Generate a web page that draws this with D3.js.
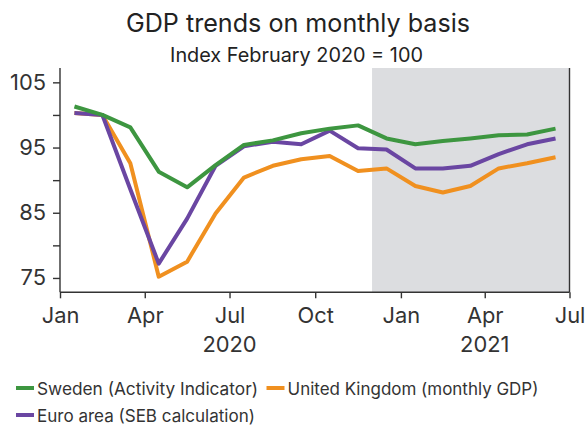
<!DOCTYPE html>
<html>
<head>
<meta charset="utf-8">
<script src="https://cdn.jsdelivr.net/npm/d3@7"></script>
<style>
  html, body { margin: 0; padding: 0; background: #fff; }
  svg { display: block; font-family: "Inter", "Open Sans", sans-serif; }
</style>
</head>
<body>
<svg id="chart" width="585" height="425"></svg>
<script>
// ---- Data ----
const months = ["2020-01","2020-02","2020-03","2020-04","2020-05","2020-06","2020-07","2020-08","2020-09","2020-10","2020-11","2020-12",
                "2021-01","2021-02","2021-03","2021-04","2021-05","2021-06"];
const sweden = [101.3,100.0,98.1,91.3,88.9,92.3,95.4,96.1,97.2,97.9,98.4,96.4,95.5,96.0,96.4,96.9,97.0,97.9];
const ukGdp  = [100.3,100.0,92.6,75.2,77.5,84.9,90.4,92.2,93.2,93.7,91.4,91.8,89.1,88.1,89.1,91.8,92.6,93.5];
const euro   = [100.3,100.0,88.6,77.2,84.1,92.2,95.2,95.9,95.5,97.6,94.9,94.7,91.8,91.8,92.2,94.0,95.5,96.4];
const seriesNames = ["Sweden (Activity Indicator)","United Kingdom (monthly GDP)","Euro area (SEB calculation)"];
const seriesColors = ["#3d9640","#f0901f","#6a46a2"];
const yTicks = [75,85,95,105];
const yMinorTicks = [80,90,100];
const xTickLabels = ["Jan","Apr","Jul","Oct","Jan","Apr","Jul"];
const yearLabels = [{label:"2020", month:"2020-07"},{label:"2021", month:"2021-04"}];
const forecastStart = "2020-12";
const title = "GDP trends on monthly basis";
const subtitle = "Index February 2020 = 100";

(function(){
const svg = d3.select("#chart");
const pL = 60, pR = 569.5, pT = 68, pB = 292.3;
const parse = d3.timeParse("%Y-%m");
const mid = m => { const d = parse(m); return new Date((+d + +d3.timeMonth.offset(d,1)) / 2); };

const x = d3.scaleTime().domain([parse("2020-01"), parse("2021-07")]).range([pL, pR]);
const y = d3.scaleLinear().domain([72.8, 107.2]).range([pB, pT]);

const textColor = "#333";

// scale a text's font-size so that it spans the target width
function fit(sel, target) {
  const node = sel.node();
  const fs = parseFloat(sel.attr("font-size"));
  const w = node.getComputedTextLength();
  if (w > 0) sel.attr("font-size", (fs * target / w).toFixed(2));
  return sel;
}

// Shaded forecast region
svg.append("rect")
  .attr("x", x(parse(forecastStart)))
  .attr("y", pT)
  .attr("width", pR - x(parse(forecastStart)))
  .attr("height", pB - pT)
  .attr("fill", "#dcdde0");

// Title
fit(svg.append("text").attr("x", 298).attr("y", 31.5).attr("text-anchor","middle")
  .attr("font-size", 23).attr("fill", "#222").text(title), 344);
fit(svg.append("text").attr("x", 296.5).attr("y", 61.8).attr("text-anchor","middle")
  .attr("font-size", 18).attr("fill", "#222").text(subtitle), 253);

// Y axis
const yAxis = d3.axisLeft(y).tickValues(yTicks).tickSize(7).tickPadding(7).tickFormat(d3.format("d"));
const yg = svg.append("g").attr("transform", `translate(${pL},0)`).call(yAxis);
const yMinor = d3.axisLeft(y).tickValues(yMinorTicks).tickSize(7).tickFormat("");
const ymg = svg.append("g").attr("transform", `translate(${pL},0)`).call(yMinor);
ymg.select(".domain").remove();

// X axis
const xTickDates = d3.timeMonth.every(3).range(parse("2020-01"), d3.timeMonth.offset(parse("2021-07"),1));
const xAxis = d3.axisBottom(x).tickValues(xTickDates).tickSize(6).tickPadding(9)
  .tickFormat((d,i) => xTickLabels[i]);
const xg = svg.append("g").attr("transform", `translate(0,${pB})`).call(xAxis);

[yg, ymg, xg].forEach(g => {
  g.attr("font-family", null);
  g.selectAll(".domain").attr("stroke", textColor).attr("stroke-width", 1.4);
  g.selectAll(".tick line").attr("stroke", textColor).attr("stroke-width", 1.4);
  g.selectAll(".tick text").attr("fill", textColor).attr("font-size", 20);
});
// tick label size fitted on "105" width
const t105 = yg.selectAll(".tick text").filter(d => d === 105);
const w105 = t105.node().getComputedTextLength();
const tickFs = (20 * 36 / w105).toFixed(2);
yg.selectAll(".tick text").attr("font-size", tickFs);
xg.selectAll(".tick text").attr("font-size", tickFs);

yg.select(".domain").attr("d", `M0,${pT}V${pB}`);
xg.select(".domain").attr("d", `M${pL},0H${pR}`);

// Right frame line
svg.append("line").attr("x1", pR).attr("x2", pR).attr("y1", pT).attr("y2", pB)
  .attr("stroke", textColor).attr("stroke-width", 1.4);

// Year labels
svg.selectAll("text.year").data(yearLabels).enter().append("text")
  .attr("class","year")
  .attr("x", d => x(parse(d.month)))
  .attr("y", 352)
  .attr("text-anchor","middle")
  .attr("font-size", tickFs).attr("fill", textColor)
  .text(d => d.label);

// Lines
const allSeries = [sweden, ukGdp, euro];
const line = d3.line().x((d,i) => x(mid(months[i]))).y(d => y(d));
const drawOrder = [1, 2, 0];
drawOrder.forEach(k => {
  svg.append("path").datum(allSeries[k])
    .attr("fill","none")
    .attr("stroke", seriesColors[k])
    .attr("stroke-width", 4)
    .attr("stroke-linejoin","round")
    .attr("d", line);
});

// Legend
const legendItems = [
  {k:0, x:16, y:388, w:221},
  {k:1, x:266.5, y:388, w:251},
  {k:2, x:16, y:415, w:218}
];
const lg = svg.append("g");
legendItems.forEach(it => {
  lg.append("line").attr("x1", it.x).attr("x2", it.x + 18).attr("y1", it.y).attr("y2", it.y)
    .attr("stroke", seriesColors[it.k]).attr("stroke-width", 4);
  fit(lg.append("text").attr("x", it.x + 21).attr("y", it.y + 6.5)
    .attr("font-size", 17).attr("fill", textColor).text(seriesNames[it.k]), it.w);
});
})();
</script>
</body>
</html>
